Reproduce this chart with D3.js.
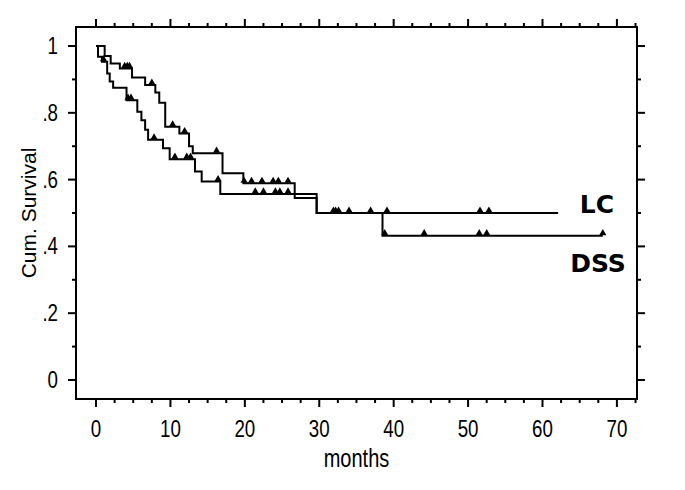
<!DOCTYPE html>
<html>
<head>
<meta charset="utf-8">
<script src="https://cdn.jsdelivr.net/npm/d3@7"></script>
<style>
  body { margin: 0; background: #fff; }
  text { font-family: "Liberation Sans", Arial, sans-serif; fill: #000; }
  .frame, .tick-line, .km-line { fill: none; stroke: #000; }
  .group-label { font-family: "DejaVu Sans", Verdana, sans-serif; font-weight: bold; }
</style>
</head>
<body>
<svg id="chart" width="685" height="490"></svg>
<script>
// Kaplan-Meier steps: [month, cumulative survival after that month]
var lcSteps = [[0, 1], [1.16, 0.97], [1.97, 0.948], [3.2, 0.933], [4.84, 0.906], [6.6, 0.883],
  [7.97, 0.861], [8.5, 0.83], [9.3, 0.758], [11.2, 0.738], [12.5, 0.70], [13.0, 0.679],
  [17.0, 0.619], [19.8, 0.589], [26.7, 0.545], [29.65, 0.5]];
var lcEnd = 62.1;
var lcCensored = [3.85, 4.2, 4.5, 7.5, 10.3, 11.9, 16.2, 19.9, 20.9, 22.3, 23.8, 24.5, 25.8,
  31.9, 32.2, 32.6, 34.0, 36.9, 39.1, 51.6, 52.8];

var dssSteps = [[0, 1], [0.27, 0.968], [0.8, 0.953], [1.5, 0.918], [1.84, 0.894], [2.3, 0.875],
  [4.1, 0.838], [5.55, 0.803], [6.1, 0.778], [6.6, 0.749], [7.0, 0.719], [9.0, 0.694],
  [9.9, 0.661], [13.3, 0.624], [14.2, 0.594], [16.7, 0.557], [29.65, 0.5], [38.5, 0.432]];
var dssEnd = 68.1;
var dssCensored = [1.0, 4.3, 4.7, 7.8, 10.6, 12.2, 12.7, 16.4, 21.4, 22.5, 24.1, 24.7, 25.8,
  38.8, 44.1, 51.5, 52.5, 68.1];

var xTicks = [0, 10, 20, 30, 40, 50, 60, 70];
var xMinorTicks = d3.range(0, 72.6, 2.5);
var yTicks = [0, 0.2, 0.4, 0.6, 0.8, 1];
var yTickLabels = ['0', '.2', '.4', '.6', '.8', '1'];
var yMinorTicks = d3.range(0, 1.01, 0.1);

var svg = d3.select('#chart');

var x = d3.scaleLinear().domain([-2.69, 72.7]).range([76, 637]);
var y = d3.scaleLinear().domain([-0.057, 1.057]).range([399, 27]);

var plotLeft = x.range()[0], plotRight = x.range()[1];
var plotTop = y.range()[1], plotBottom = y.range()[0];

// frame
svg.append('rect').attr('class', 'frame')
  .attr('x', plotLeft).attr('y', plotTop)
  .attr('width', plotRight - plotLeft).attr('height', plotBottom - plotTop)
  .attr('stroke-width', 2);

// ticks on all four sides, pointing outwards
var majorLen = 8, minorLen = 4;
function tickRow(values, len, isX) {
  values.forEach(function (v) {
    if (isX) {
      svg.append('line').attr('class', 'tick-line').attr('stroke-width', 2)
        .attr('x1', x(v)).attr('x2', x(v)).attr('y1', plotBottom).attr('y2', plotBottom + len);
      svg.append('line').attr('class', 'tick-line').attr('stroke-width', 2)
        .attr('x1', x(v)).attr('x2', x(v)).attr('y1', plotTop).attr('y2', plotTop - len);
    } else {
      svg.append('line').attr('class', 'tick-line').attr('stroke-width', 2)
        .attr('x1', plotLeft).attr('x2', plotLeft - len).attr('y1', y(v)).attr('y2', y(v));
      svg.append('line').attr('class', 'tick-line').attr('stroke-width', 2)
        .attr('x1', plotRight).attr('x2', plotRight + len).attr('y1', y(v)).attr('y2', y(v));
    }
  });
}
tickRow(xMinorTicks.filter(function (v) { return v % 10 !== 0; }), minorLen, true);
tickRow(xTicks, majorLen, true);
tickRow(yMinorTicks.filter(function (v) { return Math.round(v * 10) % 2 === 1; }), minorLen, false);
tickRow(yTicks, majorLen, false);

// tick labels (the original uses a narrow face, so squeeze horizontally)
var narrow = 0.78;
svg.selectAll('.x-label').data(xTicks).enter().append('text')
  .attr('class', 'x-label')
  .attr('transform', function (d) { return 'translate(' + x(d) + ',437) scale(' + narrow + ',1)'; })
  .attr('text-anchor', 'middle')
  .style('font-size', '24px')
  .text(function (d) { return d; });

svg.selectAll('.y-label').data(yTicks).enter().append('text')
  .attr('class', 'y-label')
  .attr('transform', function (d) { return 'translate(58,' + (y(d) + 8) + ') scale(' + narrow + ',1)'; })
  .attr('text-anchor', 'end')
  .style('font-size', '24px')
  .text(function (d, i) { return yTickLabels[i]; });

// axis titles
svg.append('text')
  .attr('transform', 'translate(' + x(35) + ',467) scale(0.8,1)')
  .attr('text-anchor', 'middle')
  .style('font-size', '25px')
  .text('months');

svg.append('text')
  .attr('transform', 'translate(36,' + y(0.5) + ') rotate(-90)')
  .attr('text-anchor', 'middle')
  .style('font-size', '21px')
  .text('Cum. Survival');

// survival value at time t for a step table
function survivalAt(steps, t) {
  var v = steps[0][1];
  steps.forEach(function (s) { if (s[0] <= t) { v = s[1]; } });
  return v;
}

var line = d3.line()
  .x(function (d) { return x(d[0]); })
  .y(function (d) { return y(d[1]); })
  .curve(d3.curveStepAfter);

var triangle = d3.symbol().type(d3.symbolTriangle).size(22);

function drawCurve(steps, end, censored) {
  var pts = steps.concat([[end, steps[steps.length - 1][1]]]);
  svg.append('path').attr('class', 'km-line')
    .attr('d', line(pts))
    .attr('stroke-width', 2);

  svg.selectAll(null).data(censored).enter().append('path')
    .attr('d', triangle)
    .attr('transform', function (t) {
      return 'translate(' + x(t) + ',' + (y(survivalAt(steps, t)) - 2.5) + ')';
    })
    .attr('fill', '#000');
}

drawCurve(dssSteps, dssEnd, dssCensored);
drawCurve(lcSteps, lcEnd, lcCensored);

// group labels
svg.append('text').attr('class', 'group-label')
  .attr('x', 597).attr('y', 213)
  .attr('text-anchor', 'middle')
  .style('font-size', '25px')
  .text('LC');

svg.append('text').attr('class', 'group-label')
  .attr('x', 598).attr('y', 272)
  .attr('text-anchor', 'middle')
  .style('font-size', '25px')
  .text('DSS');
</script>
</body>
</html>
